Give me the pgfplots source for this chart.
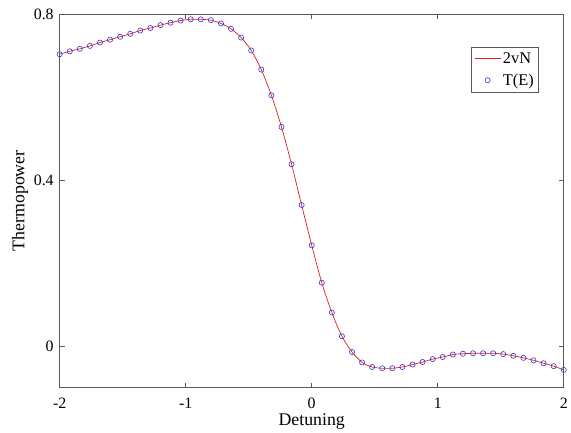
\documentclass[border=0pt]{standalone}
\usepackage{fontspec}
\setmainfont{Liberation Serif}
\usepackage{pgfplots}
\usepackage{pgfplotstable}
\pgfplotsset{compat=1.18}

\pgfplotstableread{
x y
-2.00 0.703
-1.92 0.710
-1.84 0.716
-1.76 0.723
-1.68 0.731
-1.60 0.738
-1.52 0.745
-1.44 0.752
-1.36 0.760
-1.28 0.766
-1.20 0.773
-1.12 0.779
-1.04 0.784
-0.96 0.787
-0.88 0.787
-0.80 0.785
-0.72 0.777
-0.64 0.764
-0.56 0.743
-0.48 0.712
-0.40 0.666
-0.32 0.604
-0.24 0.528
-0.16 0.438
-0.08 0.340
0.00 0.243
0.08 0.153
0.16 0.081
0.24 0.024
0.32 -0.014
0.40 -0.039
0.48 -0.050
0.56 -0.053
0.64 -0.053
0.72 -0.050
0.80 -0.044
0.88 -0.038
0.96 -0.031
1.04 -0.026
1.12 -0.020
1.20 -0.018
1.28 -0.017
1.36 -0.017
1.44 -0.017
1.52 -0.019
1.60 -0.023
1.68 -0.028
1.76 -0.034
1.84 -0.041
1.92 -0.048
2.00 -0.057
}\thermo

\definecolor{lred}{RGB}{225,30,30}
\definecolor{mblue}{RGB}{50,50,210}
\definecolor{frame}{RGB}{90,90,90}

\begin{document}
\begin{tikzpicture}
\begin{axis}[
    scale only axis,
    width=507bp, height=376bp,
    xmin=-2, xmax=2, ymin=-0.1, ymax=0.8,
    xtick={-2,-1,0,1,2},
    ytick={0,0.4,0.8},
    yticklabels={0,0.4,0.8},
    tick align=inside,
    major tick length=5bp,
    tick style={frame, line width=0.6bp},
    axis line style={frame, line width=0.8bp},
    /pgf/number format/assume math mode=true,
    tick label style={font=\fontsize{16}{18}\selectfont},
    label style={font=\fontsize{18}{20}\selectfont},
    xticklabel style={yshift=-7bp},
    yticklabel style={xshift=-2.5bp},
    xlabel={Detuning},
    ylabel={Thermopower},
    xlabel style={yshift=2bp},
    ylabel style={yshift=-1bp},
    legend style={at={(0.951,0.912)}, anchor=north east,
        draw=frame, line width=0.6bp,
        font=\fontsize{16.5}{18}\selectfont,
        inner xsep=3bp, inner ysep=3.5bp, row sep=5bp},
    legend cell align=left,
    legend image code/.code={%
        \draw[mark repeat=2, mark phase=2, #1]
        plot coordinates {(0bp,0bp) (13bp,0bp) (26bp,0bp)};},
]
\addplot[color=lred, draw=lred, line width=0.7bp, smooth, no marks,
    legend image post style={draw=lred}] table[x=x, y=y] {\thermo};
\addplot[color=mblue, draw=mblue, only marks, mark=o, mark size=2.6bp, line width=0.6bp] table[x=x, y=y] {\thermo};
\legend{2vN, T(E)}
\end{axis}
\path[use as bounding box] ([xshift=-60bp, yshift=-42bp]current axis.south west)
    rectangle ([xshift=4bp, yshift=14bp]current axis.north east);
\end{tikzpicture}
\end{document}
